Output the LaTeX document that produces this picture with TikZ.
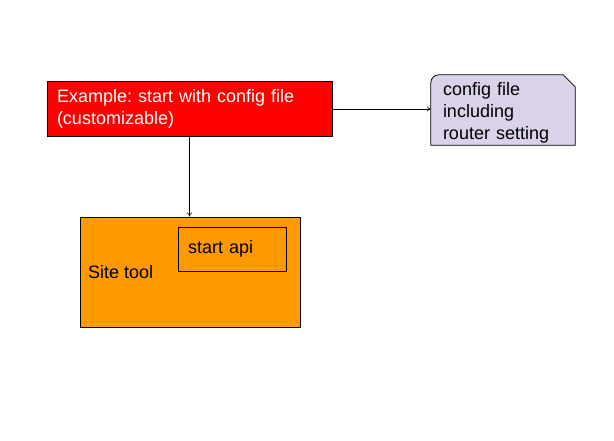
\documentclass[tikz,border=0pt]{standalone}
\usepackage{fontspec}
\setmainfont{Liberation Sans}
\usetikzlibrary{arrows.meta}
\definecolor{boxred}{HTML}{FF0000}
\definecolor{boxorange}{HTML}{FF9900}
\definecolor{cardlilac}{HTML}{D9D2E9}
\frenchspacing
\begin{document}
\begin{tikzpicture}[x=1pt, y=-1pt,
    every node/.style={font=\fontsize{18}{22}\selectfont, inner sep=0pt},
    flowbox/.style={draw, line width=0.8pt, minimum width=#1, align=left},
    link/.style={-{To[length=4pt,width=5pt]}, line width=0.6pt}]
  \useasboundingbox (0,0) rectangle (614,440);
  % Boxes
  \node[flowbox=285pt, fill=boxred, text=white, minimum height=55pt,
        text width=265pt] (start) at (189.5,109)
        {Example: start with config file\\(customizable)};
  \node[minimum width=144pt, minimum height=70pt] (card) at (503,110) {};
  \draw[line width=0.8pt, fill=cardlilac]
        (card.south west) -- ([yshift=-8pt]card.north west)
        arc[start angle=180, end angle=90, radius=8pt]
        -- ([xshift=-12pt]card.north east) -- ([yshift=-12pt]card.north east)
        -- (card.south east) -- cycle;
  \node[text width=125pt, align=left] (cardtext) at ([xshift=12pt,yshift=-3pt]card.west)
        [anchor=west] {config file\\including\\router setting};
  \node[flowbox=220pt, fill=boxorange, minimum height=110pt] (site) at (190,272) {};
  \node[anchor=west] (sitelabel) at (88,272) {Site tool};
  \node[flowbox=108pt, minimum height=44pt, text width=88pt] (api) at (232,249) {start api};
  % Connectors
  \draw[link] (start.east) -- (start.east -| card.west);
  \draw[link] (start.south) -- (start.south |- site.north);
\end{tikzpicture}
\end{document}
